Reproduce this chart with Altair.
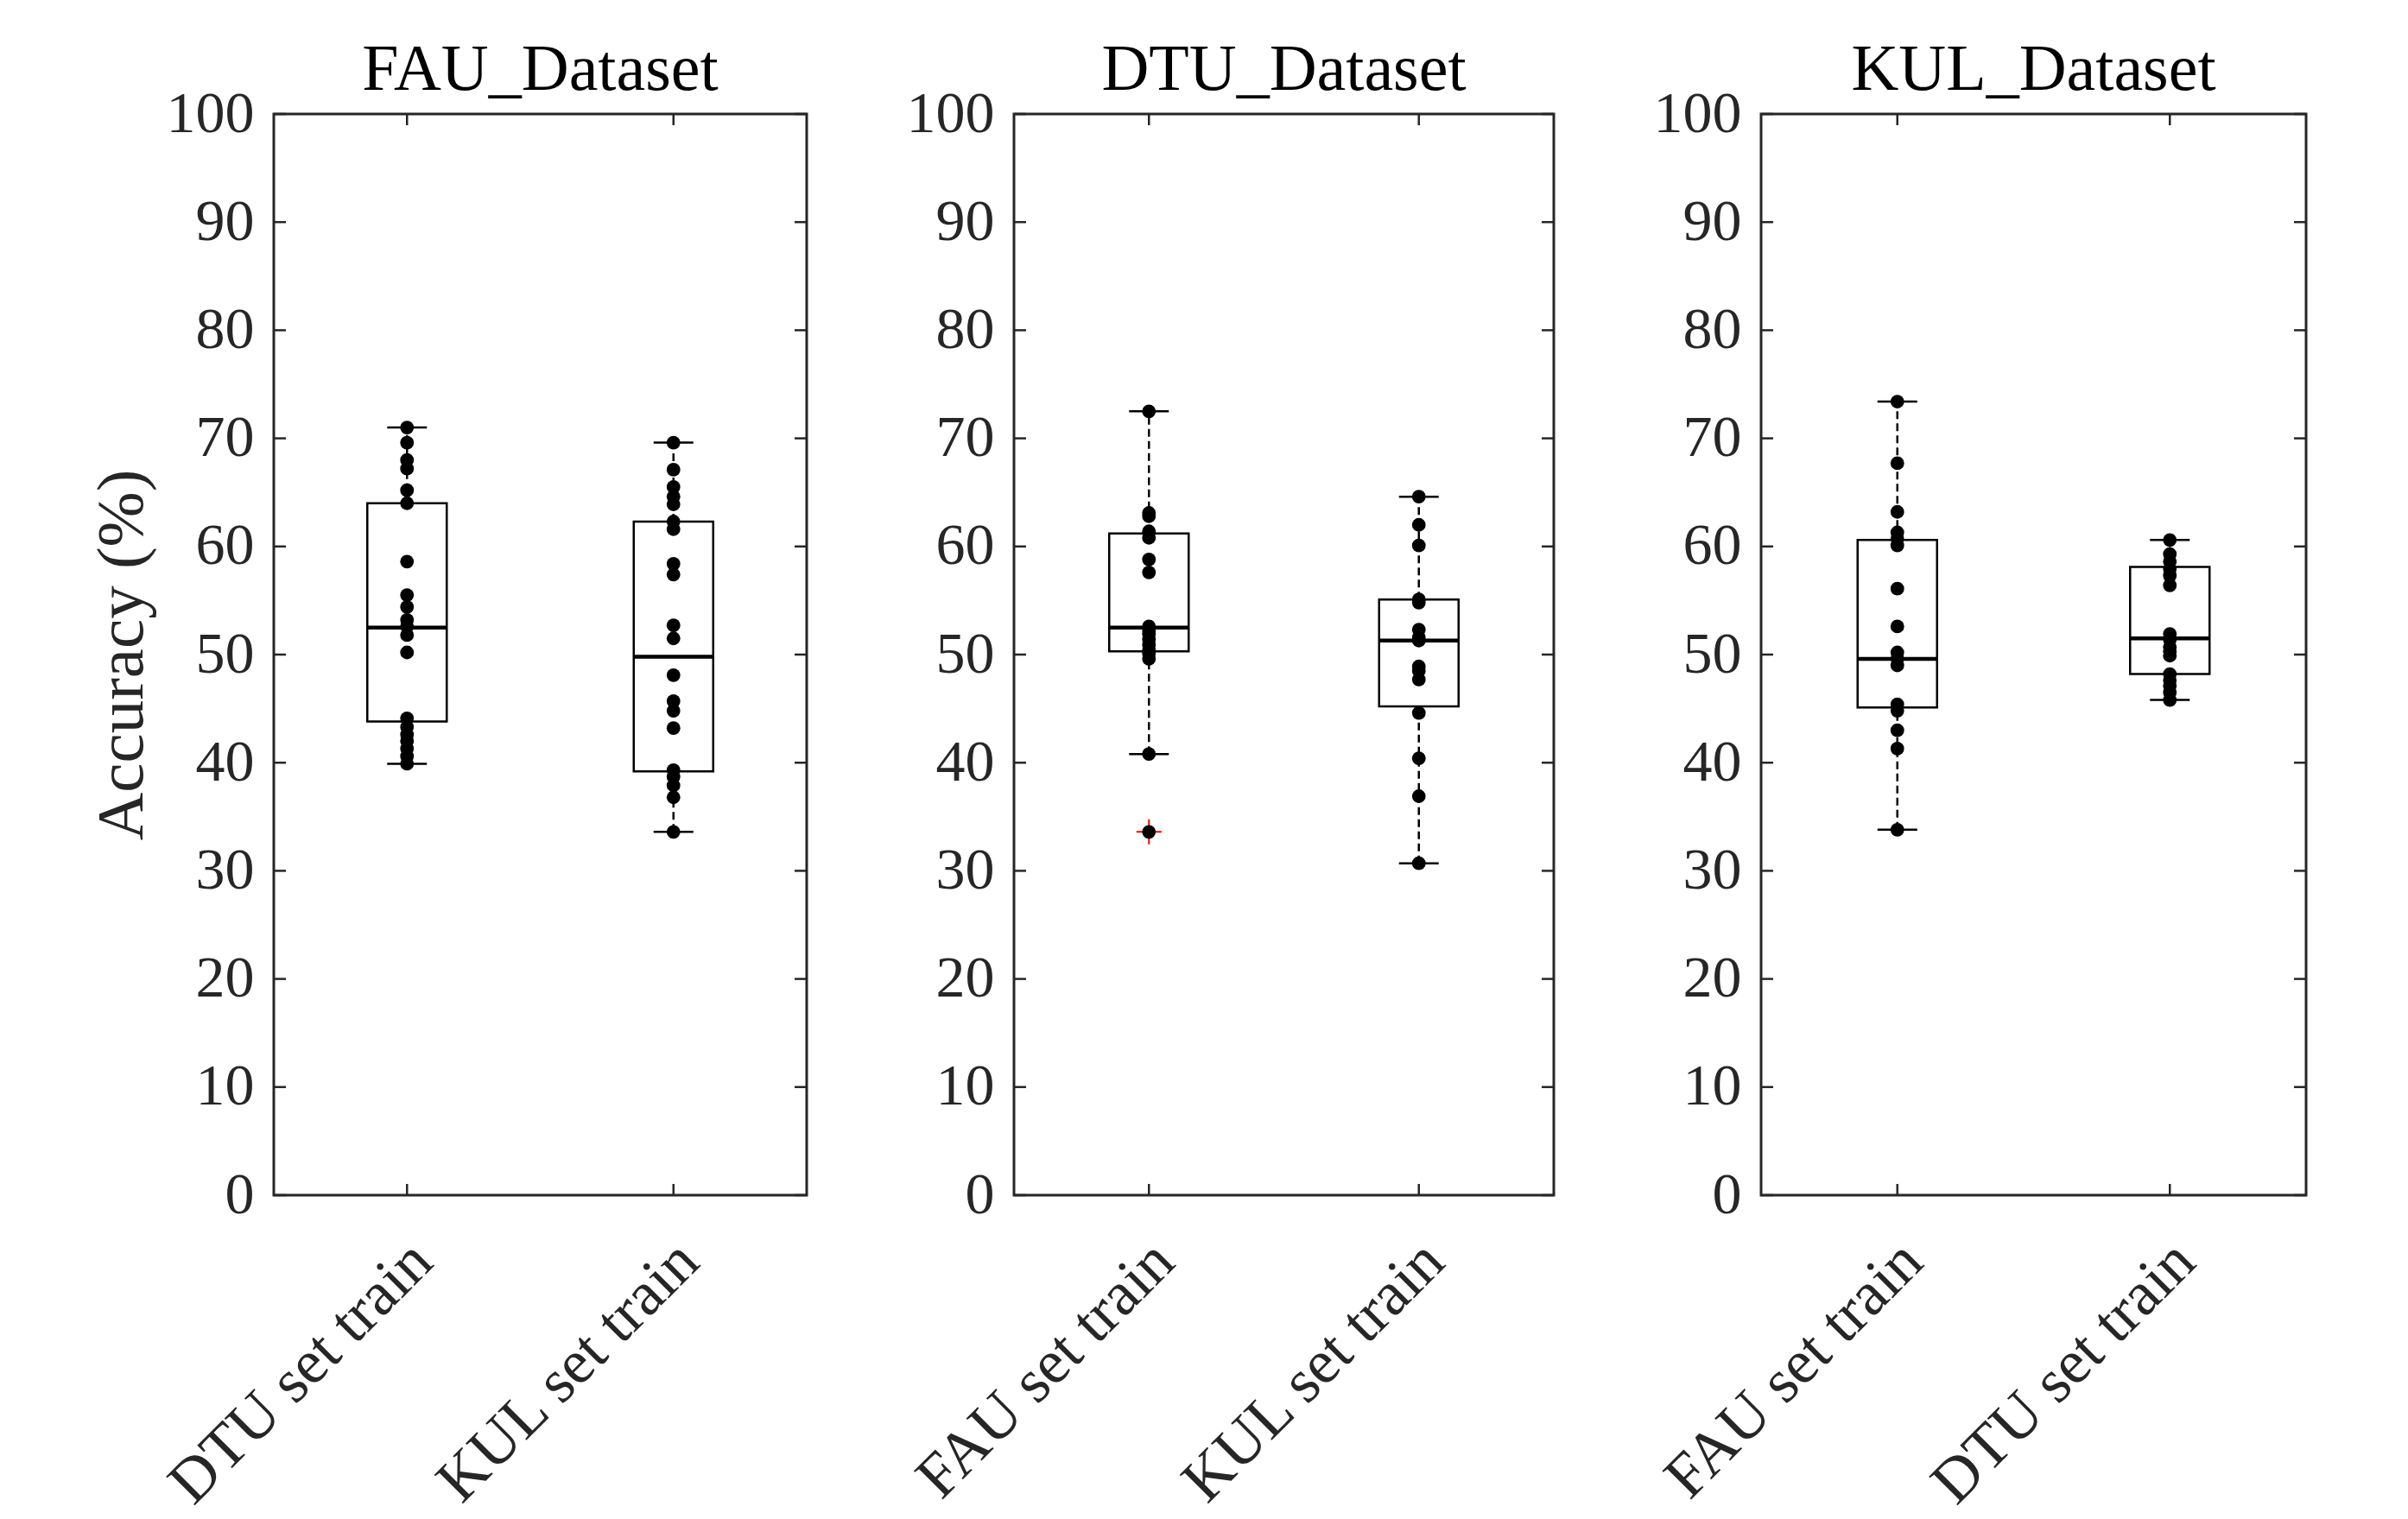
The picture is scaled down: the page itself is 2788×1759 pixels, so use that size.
import altair as alt
import pandas as pd

FONT = "Liberation Serif"
TEXT = "#262626"

# ---------------- data ----------------
panel_titles = ["FAU_Dataset", "DTU_Dataset", "KUL_Dataset"]
panel_cats = [
    ["DTU set train", "KUL set train"],
    ["FAU set train", "KUL set train"],
    ["FAU set train", "DTU set train"],
]
tick_values = [0, 10, 20, 30, 40, 50, 60, 70, 80, 90, 100]

# individual accuracies (black dots)
fau_by_dtu = [71.0, 69.6, 68.0, 67.2, 65.2, 64.0, 58.6, 55.5, 54.4, 53.2, 52.6, 51.8, 50.2,
              44.1, 43.3, 42.6, 42.0, 41.3, 40.6, 39.9]
fau_by_kul = [69.6, 67.1, 65.5, 64.6, 63.9, 62.3, 61.6, 58.4, 57.4, 52.7, 51.5, 48.1, 45.7,
              44.8, 43.2, 39.3, 38.7, 37.9, 36.8, 33.6]
dtu_by_fau = [72.5, 63.1, 62.8, 61.4, 60.8, 58.8, 57.6, 52.6, 52.2, 51.9, 51.4, 50.9, 50.4,
              50.1, 49.6, 40.8, 33.6]
dtu_by_kul = [64.6, 62.0, 60.1, 55.1, 54.8, 52.3, 51.6, 51.3, 48.9, 48.5, 47.7, 44.6, 40.4,
              36.9, 30.7]
kul_by_fau = [73.4, 67.7, 63.2, 61.3, 60.7, 60.1, 56.1, 52.6, 50.2, 49.6, 49.0, 45.4, 44.8,
              43.0, 41.3, 33.8]
kul_by_dtu = [60.6, 59.3, 58.6, 57.9, 57.3, 56.4, 51.9, 51.4, 50.7, 50.3, 49.9, 48.2, 47.6,
              47.1, 46.5, 45.8]
points = [[fau_by_dtu, fau_by_kul], [dtu_by_fau, dtu_by_kul], [kul_by_fau, kul_by_dtu]]

# box statistics: lower whisker, q1, median, q3, upper whisker
whisker_lo = [[39.9, 33.6], [40.8, 30.7], [33.8, 45.8]]
q1 = [[43.8, 39.2], [50.3, 45.2], [45.1, 48.2]]
median = [[52.5, 49.8], [52.5, 51.3], [49.6, 51.5]]
q3 = [[64.0, 62.3], [61.2, 55.1], [60.6, 58.1]]
whisker_hi = [[71.0, 69.6], [72.5, 64.6], [73.4, 60.6]]
# outliers (red +)
outlier_panel = ["DTU_Dataset"]
outlier_cat = ["FAU set train"]
outlier_value = [33.6]

widths = [617, 625, 631]
HEIGHT = 1252
BOX_W = 92
CAP_W = 46
TICK_LEN = 14


def panel(i):
    title = panel_titles[i]
    cats = panel_cats[i]
    w = widths[i]

    pts = pd.DataFrame(
        [{"cat": cats[j], "value": v} for j in range(2) for v in points[i][j]]
    )
    stats = pd.DataFrame(
        [{"cat": cats[j], "lo": whisker_lo[i][j], "q1": q1[i][j], "med": median[i][j],
          "q3": q3[i][j], "hi": whisker_hi[i][j]} for j in range(2)]
    )
    outs = pd.DataFrame(
        [{"cat": c, "value": v} for p, c, v in zip(outlier_panel, outlier_cat, outlier_value)
         if p == title]
    )
    ticks = pd.DataFrame({"v": tick_values})

    xs = alt.Scale(domain=cats, type="point", padding=0.5)
    ys = alt.Scale(domain=[0, 100], nice=False, zero=False)
    xaxis = alt.Axis(labelAngle=315, labelAlign="right", labelBaseline="top",
                     ticks=False, domain=False, grid=False, labelFont=FONT,
                     labelFontSize=72, labelColor=TEXT, labelPadding=40, labelOffset=-8,
                     title=None, labelOverlap=False, labelLimit=0)
    if i == 0:
        yaxis = alt.Axis(values=tick_values, ticks=False, domain=False, grid=False,
                         labelFont=FONT, labelFontSize=68, labelColor=TEXT, labelPadding=23,
                         title="Accuracy (%)", titleFont=FONT, titleFontSize=77,
                         titleFontWeight="normal", titleColor=TEXT, titlePadding=12)
    else:
        yaxis = alt.Axis(values=tick_values, ticks=False, domain=False, grid=False,
                         labelFont=FONT, labelFontSize=68, labelColor=TEXT, labelPadding=23,
                         title=None)

    def X():
        return alt.X("cat:N", scale=xs, axis=xaxis)

    def Y(field):
        return alt.Y(f"{field}:Q", scale=ys, axis=yaxis)

    base = alt.Chart(stats)
    wh_up = base.mark_rule(color="black", strokeWidth=2.5, strokeDash=[9, 5]).encode(
        x=X(), y=Y("q3"), y2="hi")
    wh_dn = base.mark_rule(color="black", strokeWidth=2.5, strokeDash=[9, 5]).encode(
        x=X(), y=Y("lo"), y2="q1")
    box = base.mark_bar(size=BOX_W, fill="white", stroke="black", strokeWidth=2.5,
                        opacity=1).encode(x=X(), y=Y("q1"), y2="q3")
    med = base.mark_tick(size=BOX_W, thickness=4.5, color="black", opacity=1).encode(
        x=X(), y=Y("med"))
    cap_hi = base.mark_tick(size=CAP_W, thickness=2.5, color="black", opacity=1).encode(
        x=X(), y=Y("hi"))
    cap_lo = base.mark_tick(size=CAP_W, thickness=2.5, color="black", opacity=1).encode(
        x=X(), y=Y("lo"))

    layers = [wh_up, wh_dn, box, med, cap_hi, cap_lo]
    if len(outs):
        layers.append(
            alt.Chart(outs).mark_point(shape="M-1,0L1,0M0,-1L0,1", size=841, filled=False,
                                       stroke="#ff0000", strokeWidth=2, opacity=1)
            .encode(x=X(), y=Y("value"))
        )
    layers.append(
        alt.Chart(pts).mark_circle(size=250, color="black", opacity=1).encode(
            x=X(), y=Y("value"))
    )
    tk = alt.Chart(ticks)
    layers.append(tk.mark_rule(color=TEXT, strokeWidth=2.5).encode(
        y=Y("v"), x=alt.value(0), x2=alt.value(TICK_LEN)))
    layers.append(tk.mark_rule(color=TEXT, strokeWidth=2.5).encode(
        y=Y("v"), x=alt.value(w - TICK_LEN), x2=alt.value(w)))
    layers.append(base.mark_rule(color=TEXT, strokeWidth=2.5).encode(
        x=X(), y=alt.value(0), y2=alt.value(TICK_LEN - 1)))
    layers.append(base.mark_rule(color=TEXT, strokeWidth=2.5).encode(
        x=X(), y=alt.value(HEIGHT - TICK_LEN + 1), y2=alt.value(HEIGHT)))

    return alt.layer(*layers).properties(
        width=w, height=HEIGHT,
        title=alt.TitleParams(title, font=FONT, fontSize=76, fontWeight="normal",
                              color="black", offset=-22, frame="group"),
    )


chart = alt.hconcat(panel(0), panel(1), panel(2), spacing=240, bounds="flush").properties(
    padding={"left": 92, "top": 33, "right": 10, "bottom": 0}
).configure(background="white").configure_view(stroke=TEXT, strokeWidth=3)

chart.save("out.html", embed_options={"renderer": "svg", "actions": False})
